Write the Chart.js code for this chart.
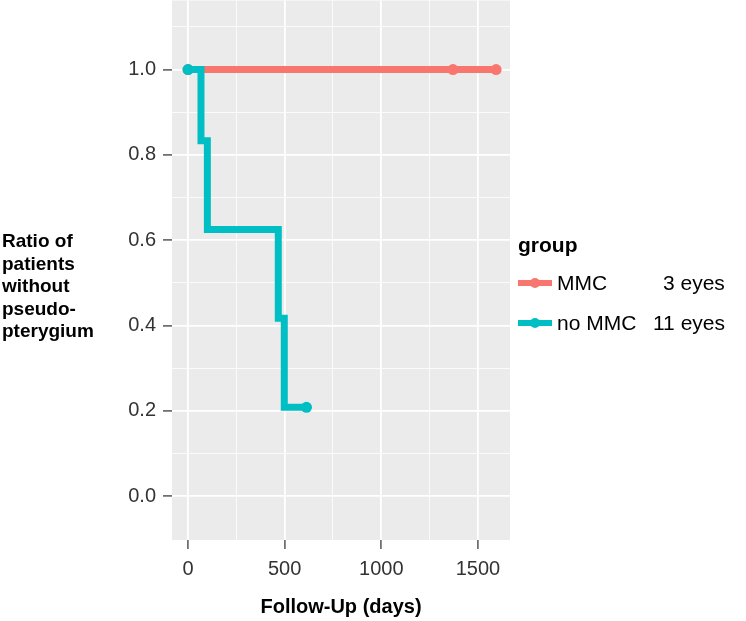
<!DOCTYPE html>
<html>
<head>
<meta charset="utf-8">
<script src="https://cdn.jsdelivr.net/npm/chart.js@4.4.0/dist/chart.umd.min.js"></script>
<style>
  body { margin: 0; background: #fff; font-family: 'Liberation Sans', Arial, sans-serif; overflow: hidden; }
  #wrap { position: relative; width: 746px; height: 621px; overflow: hidden; }
  #km { position: absolute; left: 0; top: -5px; }
  #ytitle { position: absolute; left: 2px; top: 230px; font-weight: bold; font-size: 19px; line-height: 22.5px; color: #000; white-space: nowrap; }
  #legend { position: absolute; left: 518px; top: 233px; color: #000; white-space: nowrap; }
  #legend .head { font-weight: bold; font-size: 21px; margin-bottom: 14px; }
  #legend .row { position: relative; height: 40px; font-size: 21px; }
  #legend .key { position: absolute; left: 0; top: 9px; width: 34px; height: 6px; }
  #legend .dot { position: absolute; left: 12px; top: 7px; width: 10px; height: 10px; border-radius: 50%; }
  #legend .lab { position: absolute; left: 39px; top: 0; }
  #legend .n { position: absolute; top: 0; }
</style>
</head>
<body>
<div id="wrap">
  <canvas id="km" width="746" height="626"></canvas>
  <div id="ytitle">Ratio of<br>patients<br>without<br>pseudo-<br>pterygium</div>
  <div id="legend"></div>
</div>
<script>
/* ── Data ──────────────────────────────────────────────── */
const groups     = ['MMC', 'no  MMC'];
const groupNotes = ['3 eyes', '11 eyes'];
const colors     = ['#F8766D', '#00BFC4'];

const mmcDays     = [0, 1371, 1594];
const mmcSurv     = [1.0, 1.0, 1.0];
const mmcCensored = [true, true, true];

const noDays      = [0, 67, 100, 467, 498, 613];
const noSurv      = [1.0, 0.833, 0.625, 0.417, 0.208, 0.208];
const noCensored  = [true, false, false, false, false, true];

const xTicks = [0, 250, 500, 750, 1000, 1250, 1500];
const xMajor = [0, 500, 1000, 1500];
const yTicks = [0, 0.1, 0.2, 0.3, 0.4, 0.5, 0.6, 0.7, 0.8, 0.9, 1.0, 1.1];
const yMajor = [0, 0.2, 0.4, 0.6, 0.8, 1.0];

/* ── Helpers ───────────────────────────────────────────── */
const isMajor = (list, v) => list.some(m => Math.abs(m - v) < 1e-6);
const toPoints = (xs, ys) => xs.map((x, i) => ({ x: x, y: ys[i] }));

const TICK_FONT = { family: 'Liberation Sans', size: 20 };

const panelBg = {
    id : 'panelBg',
    beforeDraw(chart) {
        const a = chart.chartArea, c = chart.ctx;
        c.save();
        c.fillStyle = '#EBEBEB';
        c.fillRect(a.left, a.top, a.right - a.left, a.bottom - a.top);
        c.restore();
    },
};

function series(label, xs, ys, cens, color) {
    return {
        label       : label,
        data        : toPoints(xs, ys),
        stepped     : 'before',
        borderColor : color,
        backgroundColor : color,
        borderWidth : 7,
        pointRadius : ctx => cens[ctx.dataIndex] ? 5.5 : 0,
        pointBorderWidth : 0,
        fill        : false,
    };
}

new Chart(document.getElementById('km'), {
    type : 'line',
    data : {
        datasets : [
            series(groups[1], noDays, noSurv, noCensored, colors[1]),
            series(groups[0], mmcDays, mmcSurv, mmcCensored, colors[0]),
        ],
    },
    plugins : [panelBg],
    options : {
        responsive : false,
        animation  : false,
        layout     : { padding: { left: 0, right: 236, top: 0, bottom: 0 } },
        plugins    : { legend: { display: false }, tooltip: { enabled: false } },
        scales : {
            x : {
                type : 'linear',
                min  : -83,
                max  : 1666,
                afterBuildTicks : s => { s.ticks = xTicks.map(v => ({ value: v })); },
                afterFit : s => { s.height = 81; s.paddingLeft = 0; s.paddingRight = 0; },
                border : { display: false },
                grid : {
                    color     : '#fff',
                    lineWidth : ctx => isMajor(xMajor, ctx.tick.value) ? 1.8 : 0.8,
                    tickColor : ctx => isMajor(xMajor, ctx.tick.value) ? '#555' : 'rgba(0,0,0,0)',
                    tickLength: 9,
                    tickWidth : 1.5,
                },
                ticks : {
                    color    : '#333',
                    font     : TICK_FONT,
                    padding  : 8,
                    maxRotation : 0,
                    autoSkip : false,
                    callback : v => isMajor(xMajor, v) ? String(v) : '',
                },
                title : {
                    display : true,
                    text    : 'Follow-Up (days)',
                    color   : '#000',
                    font    : { family: 'Liberation Sans', size: 20, weight: 'bold' },
                    padding : { top: 6, bottom: 2 },
                },
            },
            y : {
                type : 'linear',
                min  : -0.103,
                max  : 1.162,
                afterBuildTicks : s => { s.ticks = yTicks.map(v => ({ value: v })); },
                afterFit : s => { s.width = 172; s.paddingTop = 0; s.paddingBottom = 0; },
                border : { display: false },
                grid : {
                    color     : '#fff',
                    lineWidth : ctx => isMajor(yMajor, ctx.tick.value) ? 1.8 : 0.8,
                    tickColor : ctx => isMajor(yMajor, ctx.tick.value) ? '#555' : 'rgba(0,0,0,0)',
                    tickLength: 9,
                    tickWidth : 1.5,
                },
                ticks : {
                    color    : '#333',
                    font     : TICK_FONT,
                    padding  : 7,
                    autoSkip : false,
                    callback : v => isMajor(yMajor, v) ? v.toFixed(1) : '',
                },
            },
        },
    },
});

/* ── Legend (ggplot-style, right of panel) ─────────────── */
const noteLeft = [145, 135];
const legend = document.getElementById('legend');
legend.innerHTML = '<div class="head">group</div>' + groups.map((g, i) =>
    '<div class="row">' +
      '<div class="key" style="background:' + colors[i] + '"></div>' +
      '<div class="dot" style="background:' + colors[i] + '"></div>' +
      '<div class="lab">' + g + '</div>' +
      '<div class="n" style="left:' + noteLeft[i] + 'px">' + groupNotes[i] + '</div>' +
    '</div>').join('');
</script>
</body>
</html>
